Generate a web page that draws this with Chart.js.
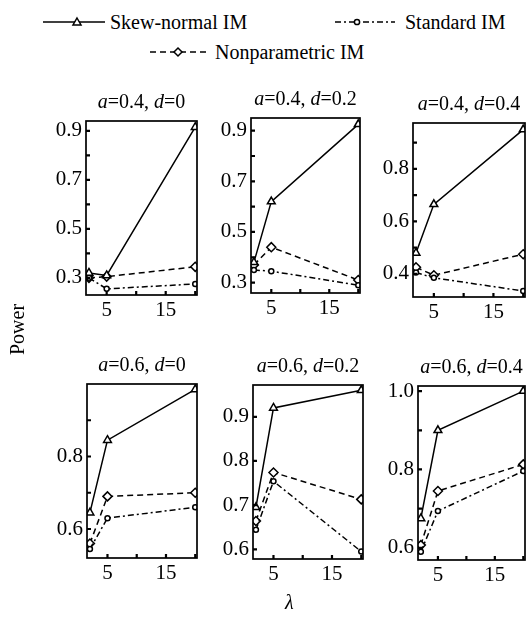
<!DOCTYPE html>
<html>
<head>
<meta charset="utf-8">
<script src="https://cdn.jsdelivr.net/npm/chart.js@4.4.1/dist/chart.umd.min.js"></script>
<style>
  body { margin: 0; background: #fff; }
  #page { position: relative; width: 529px; height: 618px; overflow: hidden; font-family: "Liberation Serif", "Times New Roman", serif; color: #000; }
  .panel { position: absolute; }
  .txt { position: absolute; font-size: 20px; white-space: nowrap; line-height: 1; }
  .title { transform: translateX(-50%); }
  svg { position: absolute; left: 0; top: 0; }
</style>
</head>
<body>
<div id="page"></div>
<script>
// data
const lambdaValues = [2, 5, 20];
const aValues = ["0.4", "0.4", "0.4", "0.6", "0.6", "0.6"];
const dValues = ["0", "0.2", "0.4", "0", "0.2", "0.4"];
const seriesNames = ["Skew-normal IM", "Standard IM", "Nonparametric IM"];

const skewNormalPower = [
  [0.32, 0.31, 0.915],
  [0.38, 0.62, 0.925],
  [0.48, 0.665, 0.95],
  [0.645, 0.845, 0.985],
  [0.695, 0.92, 0.96],
  [0.675, 0.90, 1.0],
];
const standardPower = [
  [0.30, 0.255, 0.275],
  [0.35, 0.345, 0.29],
  [0.405, 0.385, 0.335],
  [0.545, 0.63, 0.66],
  [0.644, 0.754, 0.595],
  [0.59, 0.694, 0.796],
];
const nonparametricPower = [
  [0.30, 0.305, 0.345],
  [0.37, 0.44, 0.31],
  [0.425, 0.395, 0.475],
  [0.56, 0.69, 0.70],
  [0.664, 0.774, 0.713],
  [0.607, 0.745, 0.813],
];

const xTickValues = [5, 10, 15, 20];
const xTickLabels = [5, 15];
const yTickValues = [
  [0.3, 0.4, 0.5, 0.6, 0.7, 0.8, 0.9],
  [0.3, 0.4, 0.5, 0.6, 0.7, 0.8, 0.9],
  [0.4, 0.5, 0.6, 0.7, 0.8, 0.9],
  [0.6, 0.7, 0.8, 0.9],
  [0.6, 0.7, 0.8, 0.9],
  [0.6, 0.7, 0.8, 0.9, 1.0],
];
const yTickLabels = [
  [0.3, 0.5, 0.7, 0.9],
  [0.3, 0.5, 0.7, 0.9],
  [0.4, 0.6, 0.8],
  [0.6, 0.8],
  [0.6, 0.7, 0.8, 0.9],
  [0.6, 0.8, 1.0],
];
const yRanges = [
  [0.23, 0.94], [0.259, 0.95], [0.312, 0.975],
  [0.52, 1.0], [0.578, 0.972], [0.569, 1.013],
];

// layout of each plot box: left, right, top, bottom
const boxes = [
  [86, 197, 121, 295], [251, 360, 118, 293], [413, 525, 123, 297],
  [87, 197, 384, 558], [253, 363, 385, 559], [418, 525, 386, 560],
];

const FONT = '"Liberation Serif", "Times New Roman", serif';
const page = document.getElementById("page");

const styles = [
  { pointStyle: "triangle", radius: 4.5, dash: [] },
  { pointStyle: "circle", radius: 2.5, dash: [6, 3, 2, 3] },
  { pointStyle: "rectRot", radius: 4.5, dash: [6, 4] },
];

// frame + inward ticks
const framePlugin = {
  id: "frame",
  afterDraw(chart) {
    const { ctx, chartArea: a, scales } = chart;
    const i = chart.options.plugins.frame.index;
    ctx.save();
    ctx.strokeStyle = "#000";
    ctx.lineWidth = 1.7;
    ctx.strokeRect(a.left, a.top, a.right - a.left, a.bottom - a.top);
    ctx.lineWidth = 2.2;
    ctx.beginPath();
    yTickValues[i].forEach((v) => {
      const y = scales.y.getPixelForValue(v);
      ctx.moveTo(a.left, y);
      ctx.lineTo(a.left + 4, y);
    });
    xTickValues.forEach((v) => {
      const x = scales.x.getPixelForValue(v);
      ctx.moveTo(x, a.bottom);
      ctx.lineTo(x, a.bottom - 4);
    });
    ctx.stroke();
    ctx.restore();
  },
};

boxes.forEach((b, i) => {
  const [L, R, T, B] = b;
  const div = document.createElement("div");
  div.className = "panel";
  const w = R - L + 70, h = B - T + 50;
  div.style.left = (L - 50) + "px";
  div.style.top = (T - 20) + "px";
  div.style.width = w + "px";
  div.style.height = h + "px";
  const canvas = document.createElement("canvas");
  div.appendChild(canvas);
  page.appendChild(div);

  const series = [skewNormalPower[i], standardPower[i], nonparametricPower[i]];
  const datasets = series.map((vals, k) => ({
    label: seriesNames[k],
    data: lambdaValues.map((x, j) => ({ x, y: vals[j] })),
    borderColor: "#000",
    borderWidth: 1.5,
    borderDash: styles[k].dash,
    pointStyle: styles[k].pointStyle,
    pointRadius: styles[k].radius,
    pointBackgroundColor: "#fff",
    pointBorderColor: "#000",
    pointBorderWidth: 1.5,
    tension: 0,
    clip: 0,
  }));

  new Chart(canvas, {
    type: "line",
    data: { datasets },
    options: {
      responsive: true,
      maintainAspectRatio: false,
      animation: false,
      layout: { padding: { top: 20, right: 20, left: 0, bottom: 0 } },
      plugins: { legend: { display: false }, tooltip: { enabled: false }, frame: { index: i } },
      scales: {
        x: {
          type: "linear",
          min: 1.5,
          max: 20.3,
          grid: { display: false, drawTicks: false },
          border: { display: false },
          afterBuildTicks: (s) => { s.ticks = xTickValues.map((v) => ({ value: v })); },
          afterFit: (s) => { s.height = 30; },
          ticks: {
            autoSkip: false,
            maxRotation: 0,
            padding: 3,
            color: "#000",
            font: { family: FONT, size: 21 },
            callback: (v) => (xTickLabels.includes(v) ? String(v) : ""),
          },
        },
        y: {
          min: yRanges[i][0],
          max: yRanges[i][1],
          grid: { display: false, drawTicks: false },
          border: { display: false },
          afterBuildTicks: (s) => { s.ticks = yTickValues[i].map((v) => ({ value: v })); },
          afterFit: (s) => { s.width = 50; },
          ticks: {
            autoSkip: false,
            padding: 4,
            color: "#000",
            font: { family: FONT, size: 21 },
            callback: (v) => (yTickLabels[i].some((t) => Math.abs(t - v) < 1e-9) ? v.toFixed(1) : ""),
          },
        },
      },
    },
    plugins: [framePlugin],
  });

  const t = document.createElement("div");
  t.className = "txt title";
  t.style.left = ((L + R) / 2) + "px";
  t.style.top = (T - 30) + "px";
  t.innerHTML = "<i>a</i>=" + aValues[i] + ", <i>d</i>=" + dValues[i];
  page.appendChild(t);
});

// legend
const svgNS = "http://www.w3.org/2000/svg";
const svg = document.createElementNS(svgNS, "svg");
svg.setAttribute("width", 529);
svg.setAttribute("height", 80);
svg.innerHTML =
  '<line x1="43" y1="22" x2="105" y2="22" stroke="#000" stroke-width="1.5"/>' +
  '<polygon points="77,18 81,25 73,25" fill="#fff" stroke="#000" stroke-width="1.5"/>' +
  '<line x1="335" y1="22" x2="395" y2="22" stroke="#000" stroke-width="1.5" stroke-dasharray="6,3,2,3"/>' +
  '<circle cx="357" cy="22" r="2.6" fill="#fff" stroke="#000" stroke-width="1.5"/>' +
  '<line x1="150" y1="52" x2="210" y2="52" stroke="#000" stroke-width="1.5" stroke-dasharray="6,4"/>' +
  '<polygon points="178,48 182,52 178,56 174,52" fill="#fff" stroke="#000" stroke-width="1.5"/>';
page.appendChild(svg);

function addText(html, x, y, extra) {
  const d = document.createElement("div");
  d.className = "txt";
  d.style.left = x + "px";
  d.style.top = y + "px";
  if (extra) d.style.cssText += extra;
  d.innerHTML = html;
  page.appendChild(d);
}
addText(seriesNames[0], 110, 12);
addText(seriesNames[1], 405, 12);
addText(seriesNames[2], 215, 42);
addText("Power", -8, 320, "transform: rotate(-90deg); transform-origin: 25px 10px;");
addText("<i>λ</i>", 285, 592);
</script>
</body>
</html>
